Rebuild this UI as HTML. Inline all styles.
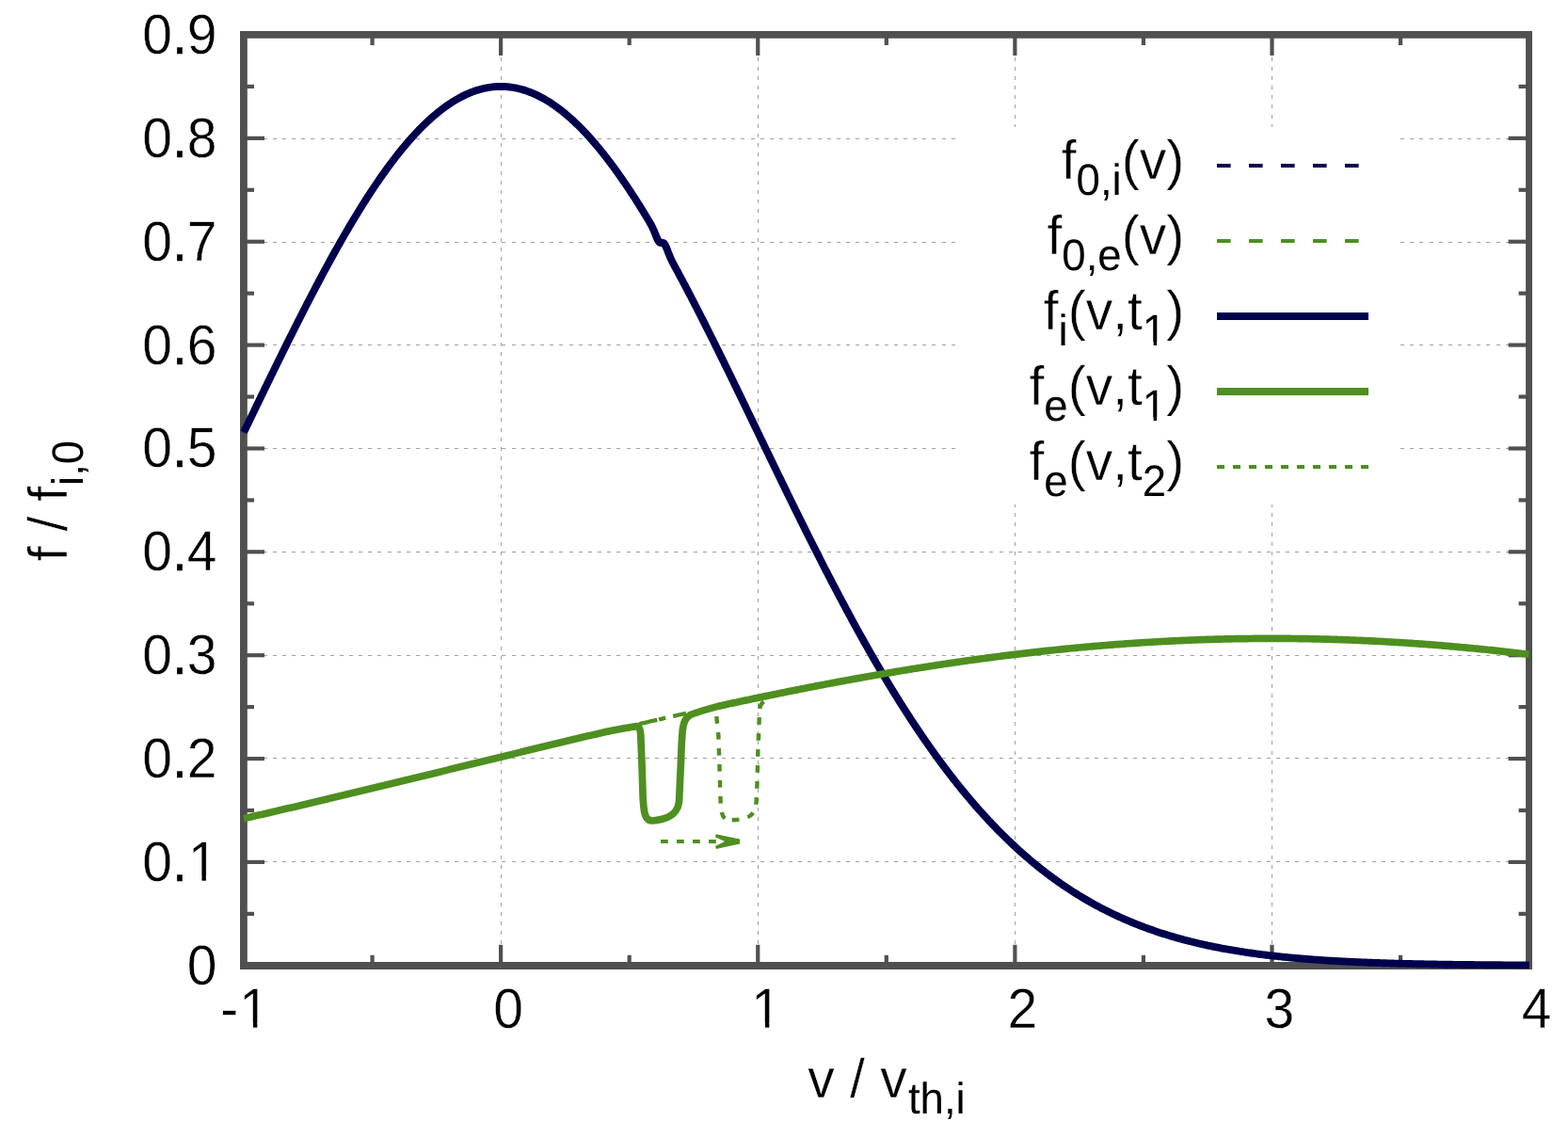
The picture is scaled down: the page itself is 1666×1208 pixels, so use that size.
<!DOCTYPE html>
<html lang="en"><head><meta charset="utf-8"><title>f / f_i,0 versus v / v_th,i</title>
<style>html,body{margin:0;padding:0;background:#fff;}body{width:1666px;height:1208px;overflow:hidden;}</style>
</head><body>
<svg width="1666" height="1208" viewBox="0 0 1666 1208" style="display:block">
<rect x="0" y="0" width="1666" height="1208" fill="#ffffff"/>
<g stroke="#a0a0a0" stroke-width="1" fill="none" shape-rendering="crispEdges">
<line x1="259.3" y1="915.50" x2="1624.60" y2="915.50" stroke-dasharray="4 6.155"/>
<line x1="259.3" y1="805.50" x2="1624.60" y2="805.50" stroke-dasharray="4 6.155"/>
<line x1="259.3" y1="696.50" x2="1624.60" y2="696.50" stroke-dasharray="4 6.155"/>
<line x1="259.3" y1="586.50" x2="1624.60" y2="586.50" stroke-dasharray="4 6.155"/>
<line x1="259.3" y1="476.50" x2="1624.60" y2="476.50" stroke-dasharray="4 6.155"/>
<line x1="259.3" y1="366.50" x2="1624.60" y2="366.50" stroke-dasharray="4 6.155"/>
<line x1="259.3" y1="257.50" x2="1624.60" y2="257.50" stroke-dasharray="4 6.155"/>
<line x1="259.3" y1="147.50" x2="1624.60" y2="147.50" stroke-dasharray="4 6.155"/>
<line x1="532.50" y1="40.82" x2="532.50" y2="1025.80" stroke-dasharray="4 6.09"/>
<line x1="805.50" y1="40.82" x2="805.50" y2="1025.80" stroke-dasharray="4 6.09"/>
<line x1="1078.50" y1="40.82" x2="1078.50" y2="1025.80" stroke-dasharray="4 6.09"/>
<line x1="1351.50" y1="40.82" x2="1351.50" y2="1025.80" stroke-dasharray="4 6.09"/>
</g>
<rect x="1016" y="135" width="471" height="401" fill="#ffffff"/>
<g stroke="#505050" stroke-width="4.2" fill="none">
<line x1="259.00" y1="1025.80" x2="281.00" y2="1025.80"/>
<line x1="1624.60" y1="1025.80" x2="1602.60" y2="1025.80"/>
<line x1="259.00" y1="970.87" x2="270.00" y2="970.87"/>
<line x1="1624.60" y1="970.87" x2="1613.60" y2="970.87"/>
<line x1="259.00" y1="915.93" x2="281.00" y2="915.93"/>
<line x1="1624.60" y1="915.93" x2="1602.60" y2="915.93"/>
<line x1="259.00" y1="861.00" x2="270.00" y2="861.00"/>
<line x1="1624.60" y1="861.00" x2="1613.60" y2="861.00"/>
<line x1="259.00" y1="806.07" x2="281.00" y2="806.07"/>
<line x1="1624.60" y1="806.07" x2="1602.60" y2="806.07"/>
<line x1="259.00" y1="751.13" x2="270.00" y2="751.13"/>
<line x1="1624.60" y1="751.13" x2="1613.60" y2="751.13"/>
<line x1="259.00" y1="696.20" x2="281.00" y2="696.20"/>
<line x1="1624.60" y1="696.20" x2="1602.60" y2="696.20"/>
<line x1="259.00" y1="641.27" x2="270.00" y2="641.27"/>
<line x1="1624.60" y1="641.27" x2="1613.60" y2="641.27"/>
<line x1="259.00" y1="586.33" x2="281.00" y2="586.33"/>
<line x1="1624.60" y1="586.33" x2="1602.60" y2="586.33"/>
<line x1="259.00" y1="531.40" x2="270.00" y2="531.40"/>
<line x1="1624.60" y1="531.40" x2="1613.60" y2="531.40"/>
<line x1="259.00" y1="476.47" x2="281.00" y2="476.47"/>
<line x1="1624.60" y1="476.47" x2="1602.60" y2="476.47"/>
<line x1="259.00" y1="421.53" x2="270.00" y2="421.53"/>
<line x1="1624.60" y1="421.53" x2="1613.60" y2="421.53"/>
<line x1="259.00" y1="366.60" x2="281.00" y2="366.60"/>
<line x1="1624.60" y1="366.60" x2="1602.60" y2="366.60"/>
<line x1="259.00" y1="311.67" x2="270.00" y2="311.67"/>
<line x1="1624.60" y1="311.67" x2="1613.60" y2="311.67"/>
<line x1="259.00" y1="256.73" x2="281.00" y2="256.73"/>
<line x1="1624.60" y1="256.73" x2="1602.60" y2="256.73"/>
<line x1="259.00" y1="201.80" x2="270.00" y2="201.80"/>
<line x1="1624.60" y1="201.80" x2="1613.60" y2="201.80"/>
<line x1="259.00" y1="146.87" x2="281.00" y2="146.87"/>
<line x1="1624.60" y1="146.87" x2="1602.60" y2="146.87"/>
<line x1="259.00" y1="91.93" x2="270.00" y2="91.93"/>
<line x1="1624.60" y1="91.93" x2="1613.60" y2="91.93"/>
<line x1="259.00" y1="37.00" x2="281.00" y2="37.00"/>
<line x1="1624.60" y1="37.00" x2="1602.60" y2="37.00"/>
<line x1="259.00" y1="1025.80" x2="259.00" y2="1003.80"/>
<line x1="259.00" y1="37.00" x2="259.00" y2="59.00"/>
<line x1="395.56" y1="1025.80" x2="395.56" y2="1014.80"/>
<line x1="395.56" y1="37.00" x2="395.56" y2="48.00"/>
<line x1="532.12" y1="1025.80" x2="532.12" y2="1003.80"/>
<line x1="532.12" y1="37.00" x2="532.12" y2="59.00"/>
<line x1="668.68" y1="1025.80" x2="668.68" y2="1014.80"/>
<line x1="668.68" y1="37.00" x2="668.68" y2="48.00"/>
<line x1="805.24" y1="1025.80" x2="805.24" y2="1003.80"/>
<line x1="805.24" y1="37.00" x2="805.24" y2="59.00"/>
<line x1="941.80" y1="1025.80" x2="941.80" y2="1014.80"/>
<line x1="941.80" y1="37.00" x2="941.80" y2="48.00"/>
<line x1="1078.36" y1="1025.80" x2="1078.36" y2="1003.80"/>
<line x1="1078.36" y1="37.00" x2="1078.36" y2="59.00"/>
<line x1="1214.92" y1="1025.80" x2="1214.92" y2="1014.80"/>
<line x1="1214.92" y1="37.00" x2="1214.92" y2="48.00"/>
<line x1="1351.48" y1="1025.80" x2="1351.48" y2="1003.80"/>
<line x1="1351.48" y1="37.00" x2="1351.48" y2="59.00"/>
<line x1="1488.04" y1="1025.80" x2="1488.04" y2="1014.80"/>
<line x1="1488.04" y1="37.00" x2="1488.04" y2="48.00"/>
<line x1="1624.60" y1="1025.80" x2="1624.60" y2="1003.80"/>
<line x1="1624.60" y1="37.00" x2="1624.60" y2="59.00"/>
</g>
<path fill="#505050" fill-rule="evenodd" d="M255,33 H1628 V1030 H255 Z M262.8,40.8 V1022 H1621.1 V40.8 Z"/>
<clipPath id="pc"><rect x="253.00" y="33.00" width="1372.20" height="996.40"/></clipPath>
<g clip-path="url(#pc)" fill="none" stroke-linejoin="round">
<path d="M259.00,459.38 L262.41,452.30 L265.83,445.22 L269.24,438.15 L272.66,431.08 L276.07,424.03 L279.48,416.98 L282.90,409.95 L286.31,402.93 L289.73,395.93 L293.14,388.96 L296.55,382.00 L299.97,375.08 L303.38,368.18 L306.80,361.31 L310.21,354.47 L313.62,347.67 L317.04,340.91 L320.45,334.19 L323.87,327.51 L327.28,320.88 L330.69,314.30 L334.11,307.76 L337.52,301.28 L340.94,294.86 L344.35,288.49 L347.76,282.19 L351.18,275.94 L354.59,269.77 L358.01,263.66 L361.42,257.62 L364.83,251.66 L368.25,245.77 L371.66,239.96 L375.08,234.23 L378.49,228.58 L381.90,223.02 L385.32,217.54 L388.73,212.16 L392.15,206.86 L395.56,201.67 L398.97,196.56 L402.39,191.56 L405.80,186.66 L409.22,181.86 L412.63,177.16 L416.04,172.58 L419.46,168.10 L422.87,163.73 L426.29,159.48 L429.70,155.34 L433.11,151.32 L436.53,147.42 L439.94,143.63 L443.36,139.97 L446.77,136.44 L450.18,133.03 L453.60,129.74 L457.01,126.59 L460.43,123.56 L463.84,120.67 L467.25,117.90 L470.67,115.28 L474.08,112.78 L477.50,110.43 L480.91,108.21 L484.32,106.12 L487.74,104.18 L491.15,102.38 L494.57,100.72 L497.98,99.20 L501.39,97.82 L504.81,96.59 L508.22,95.50 L511.64,94.56 L515.05,93.76 L518.46,93.10 L521.88,92.59 L525.29,92.23 L528.71,92.01 L532.12,91.93 L535.53,92.01 L538.95,92.23 L542.36,92.59 L545.78,93.10 L549.19,93.76 L552.60,94.56 L556.02,95.50 L559.43,96.59 L562.85,97.82 L566.26,99.20 L569.67,100.72 L573.09,102.38 L576.50,104.18 L579.92,106.12 L583.33,108.21 L586.74,110.43 L590.16,112.78 L593.57,115.28 L596.99,117.90 L600.40,120.67 L603.81,123.56 L607.23,126.59 L610.64,129.74 L614.06,133.03 L617.47,136.44 L620.88,139.97 L624.30,143.63 L627.71,147.42 L631.13,151.32 L634.54,155.34 L637.95,159.48 L641.37,163.73 L644.78,168.10 L648.20,172.58 L651.61,177.16 L655.02,181.86 L658.44,186.66 L661.85,191.56 L665.27,196.56 L668.68,201.67 L672.09,206.86 L675.51,212.16 L678.92,217.54 L682.34,223.02 L685.75,228.58 L689.16,234.23 L692.58,239.96 L695.99,245.77 L699.41,251.66 L702.82,257.62 L706.23,263.66 L709.65,269.77 L713.06,275.94 L716.48,282.19 L719.89,288.49 L723.30,294.86 L726.72,301.28 L730.13,307.76 L733.55,314.30 L736.96,320.88 L740.37,327.51 L743.79,334.19 L747.20,340.91 L750.62,347.67 L754.03,354.47 L757.44,361.31 L760.86,368.18 L764.27,375.08 L767.69,382.00 L771.10,388.96 L774.51,395.93 L777.93,402.93 L781.34,409.95 L784.76,416.98 L788.17,424.03 L791.58,431.08 L795.00,438.15 L798.41,445.22 L801.83,452.30 L805.24,459.38 L808.65,466.46 L812.07,473.54 L815.48,480.61 L818.90,487.68 L822.31,494.74 L825.72,501.78 L829.14,508.82 L832.55,515.84 L835.97,522.84 L839.38,529.83 L842.79,536.79 L846.21,543.73 L849.62,550.65 L853.04,557.54 L856.45,564.40 L859.86,571.24 L863.28,578.04 L866.69,584.81 L870.11,591.55 L873.52,598.24 L876.93,604.91 L880.35,611.53 L883.76,618.11 L887.18,624.65 L890.59,631.15 L894.00,637.60 L897.42,644.01 L900.83,650.37 L904.25,656.68 L907.66,662.94 L911.07,669.15 L914.49,675.31 L917.90,681.42 L921.32,687.47 L924.73,693.47 L928.14,699.41 L931.56,705.30 L934.97,711.13 L938.39,716.90 L941.80,722.62 L945.21,728.27 L948.63,733.87 L952.04,739.40 L955.46,744.88 L958.87,750.29 L962.28,755.64 L965.70,760.93 L969.11,766.15 L972.53,771.31 L975.94,776.41 L979.35,781.44 L982.77,786.41 L986.18,791.32 L989.60,796.16 L993.01,800.93 L996.42,805.64 L999.84,810.29 L1003.25,814.87 L1006.67,819.39 L1010.08,823.84 L1013.49,828.22 L1016.91,832.54 L1020.32,836.80 L1023.74,840.99 L1027.15,845.11 L1030.56,849.18 L1033.98,853.17 L1037.39,857.11 L1040.81,860.98 L1044.22,864.78 L1047.63,868.52 L1051.05,872.20 L1054.46,875.82 L1057.88,879.37 L1061.29,882.87 L1064.70,886.30 L1068.12,889.67 L1071.53,892.98 L1074.95,896.23 L1078.36,899.41 L1081.77,902.54 L1085.19,905.62 L1088.60,908.63 L1092.02,911.58 L1095.43,914.48 L1098.84,917.32 L1102.26,920.11 L1105.67,922.84 L1109.09,925.52 L1112.50,928.14 L1115.91,930.70 L1119.33,933.22 L1122.74,935.68 L1126.16,938.09 L1129.57,940.45 L1132.98,942.76 L1136.40,945.02 L1139.81,947.23 L1143.23,949.39 L1146.64,951.50 L1150.05,953.57 L1153.47,955.59 L1156.88,957.56 L1160.30,959.49 L1163.71,961.37 L1167.12,963.22 L1170.54,965.01 L1173.95,966.77 L1177.37,968.48 L1180.78,970.15 L1184.19,971.79 L1187.61,973.38 L1191.02,974.93 L1194.44,976.45 L1197.85,977.92 L1201.26,979.36 L1204.68,980.77 L1208.09,982.14 L1211.51,983.47 L1214.92,984.77 L1218.33,986.03 L1221.75,987.27 L1225.16,988.47 L1228.58,989.64 L1231.99,990.77 L1235.40,991.88 L1238.82,992.96 L1242.23,994.00 L1245.65,995.02 L1249.06,996.01 L1252.47,996.98 L1255.89,997.92 L1259.30,998.83 L1262.72,999.71 L1266.13,1000.57 L1269.54,1001.41 L1272.96,1002.22 L1276.37,1003.01 L1279.79,1003.77 L1283.20,1004.51 L1286.61,1005.23 L1290.03,1005.93 L1293.44,1006.61 L1296.86,1007.27 L1300.27,1007.91 L1303.68,1008.53 L1307.10,1009.13 L1310.51,1009.71 L1313.93,1010.28 L1317.34,1010.82 L1320.75,1011.35 L1324.17,1011.87 L1327.58,1012.36 L1331.00,1012.84 L1334.41,1013.31 L1337.82,1013.76 L1341.24,1014.20 L1344.65,1014.62 L1348.07,1015.03 L1351.48,1015.43 L1354.89,1015.81 L1358.31,1016.18 L1361.72,1016.54 L1365.14,1016.88 L1368.55,1017.22 L1371.96,1017.54 L1375.38,1017.85 L1378.79,1018.15 L1382.21,1018.44 L1385.62,1018.73 L1389.03,1019.00 L1392.45,1019.26 L1395.86,1019.51 L1399.28,1019.76 L1402.69,1019.99 L1406.10,1020.22 L1409.52,1020.44 L1412.93,1020.65 L1416.35,1020.85 L1419.76,1021.05 L1423.17,1021.24 L1426.59,1021.42 L1430.00,1021.60 L1433.42,1021.77 L1436.83,1021.93 L1440.24,1022.09 L1443.66,1022.24 L1447.07,1022.39 L1450.49,1022.53 L1453.90,1022.66 L1457.31,1022.79 L1460.73,1022.92 L1464.14,1023.04 L1467.56,1023.15 L1470.97,1023.26 L1474.38,1023.37 L1477.80,1023.47 L1481.21,1023.57 L1484.63,1023.67 L1488.04,1023.76 L1491.45,1023.84 L1494.87,1023.93 L1498.28,1024.01 L1501.70,1024.09 L1505.11,1024.16 L1508.52,1024.23 L1511.94,1024.30 L1515.35,1024.37 L1518.77,1024.43 L1522.18,1024.49 L1525.59,1024.55 L1529.01,1024.61 L1532.42,1024.66 L1535.84,1024.71 L1539.25,1024.76 L1542.66,1024.81 L1546.08,1024.85 L1549.49,1024.89 L1552.91,1024.94 L1556.32,1024.97 L1559.73,1025.01 L1563.15,1025.05 L1566.56,1025.08 L1569.98,1025.12 L1573.39,1025.15 L1576.80,1025.18 L1580.22,1025.21 L1583.63,1025.24 L1587.05,1025.26 L1590.46,1025.29 L1593.87,1025.31 L1597.29,1025.33 L1600.70,1025.36 L1604.12,1025.38 L1607.53,1025.40 L1610.94,1025.42 L1614.36,1025.44 L1617.77,1025.45 L1621.19,1025.47 L1624.60,1025.49" stroke="#00004d" stroke-width="3.90" stroke-dasharray="15 19"/>
<path d="M679.00,769.22 L681.41,768.66 L683.83,768.11 L686.24,767.55 L688.65,766.99 L691.06,766.44 L693.47,765.89 L695.89,765.33 L698.30,764.78 M715.20,760.94 L716.93,760.55 L718.65,760.16 L720.38,759.77 L722.10,759.39 L723.83,759.00 L725.55,758.61 L727.27,758.22 L729.00,757.84" stroke="#4e8f20" stroke-width="4.30"/>
<path d="M700.00,764.39 L700.90,764.19 L701.80,763.98 L702.70,763.78 L703.60,763.57 L704.50,763.37 L705.40,763.16 L706.30,762.96 L707.20,762.75" stroke="#4e8f20" stroke-width="4.30"/>
<path d="M259.00,459.38 L260.52,456.23 L262.03,453.09 L263.55,449.94 L265.07,446.80 L266.59,443.65 L268.10,440.51 L269.62,437.37 L271.14,434.22 L272.66,431.08 L274.17,427.95 L275.69,424.81 L277.21,421.68 L278.73,418.55 L280.24,415.42 L281.76,412.29 L283.28,409.17 L284.79,406.05 L286.31,402.93 L287.83,399.82 L289.35,396.71 L290.86,393.61 L292.38,390.51 L293.90,387.41 L295.42,384.32 L296.93,381.23 L298.45,378.15 L299.97,375.08 L301.49,372.01 L303.00,368.94 L304.52,365.88 L306.04,362.83 L307.55,359.79 L309.07,356.75 L310.59,353.72 L312.11,350.69 L313.62,347.67 L315.14,344.66 L316.66,341.66 L318.18,338.67 L319.69,335.68 L321.21,332.70 L322.73,329.73 L324.25,326.77 L325.76,323.82 L327.28,320.88 L328.80,317.95 L330.31,315.03 L331.83,312.11 L333.35,309.21 L334.87,306.32 L336.38,303.44 L337.90,300.57 L339.42,297.71 L340.94,294.86 L342.45,292.02 L343.97,289.20 L345.49,286.38 L347.01,283.58 L348.52,280.79 L350.04,278.02 L351.56,275.25 L353.07,272.50 L354.59,269.77 L356.11,267.04 L357.63,264.34 L359.14,261.64 L360.66,258.96 L362.18,256.29 L363.70,253.64 L365.21,251.00 L366.73,248.38 L368.25,245.77 L369.77,243.18 L371.28,240.60 L372.80,238.04 L374.32,235.49 L375.83,232.97 L377.35,230.45 L378.87,227.96 L380.39,225.48 L381.90,223.02 L383.42,220.57 L384.94,218.15 L386.46,215.74 L387.97,213.35 L389.49,210.97 L391.01,208.62 L392.53,206.28 L394.04,203.96 L395.56,201.67 L397.08,199.39 L398.59,197.13 L400.11,194.88 L401.63,192.66 L403.15,190.46 L404.66,188.28 L406.18,186.12 L407.70,183.98 L409.22,181.86 L410.73,179.76 L412.25,177.68 L413.77,175.62 L415.29,173.59 L416.80,171.57 L418.32,169.58 L419.84,167.61 L421.35,165.66 L422.87,163.73 L424.39,161.83 L425.91,159.95 L427.42,158.09 L428.94,156.25 L430.46,154.44 L431.98,152.65 L433.49,150.88 L435.01,149.14 L436.53,147.42 L438.05,145.72 L439.56,144.05 L441.08,142.40 L442.60,140.78 L444.11,139.18 L445.63,137.60 L447.15,136.05 L448.67,134.53 L450.18,133.03 L451.70,131.55 L453.22,130.10 L454.74,128.68 L456.25,127.28 L457.77,125.90 L459.29,124.55 L460.81,123.23 L462.32,121.94 L463.84,120.67 L465.36,119.42 L466.87,118.20 L468.39,117.01 L469.91,115.85 L471.43,114.71 L472.94,113.60 L474.46,112.51 L475.98,111.46 L477.50,110.43 L479.01,109.42 L480.53,108.45 L482.05,107.50 L483.57,106.57 L485.08,105.68 L486.60,104.81 L488.12,103.98 L489.63,103.16 L491.15,102.38 L492.67,101.62 L494.19,100.90 L495.70,100.20 L497.22,99.53 L498.74,98.88 L500.26,98.27 L501.77,97.68 L503.29,97.12 L504.81,96.59 L506.33,96.09 L507.84,95.62 L509.36,95.17 L510.88,94.75 L512.39,94.37 L513.91,94.01 L515.43,93.68 L516.95,93.37 L518.46,93.10 L519.98,92.86 L521.50,92.64 L523.02,92.45 L524.53,92.29 L526.05,92.16 L527.57,92.06 L529.09,91.99 L530.60,91.95 L532.12,91.93 L533.64,91.95 L535.15,91.99 L536.67,92.06 L538.19,92.16 L539.71,92.29 L541.22,92.45 L542.74,92.64 L544.26,92.86 L545.78,93.10 L547.29,93.37 L548.81,93.68 L550.33,94.01 L551.85,94.37 L553.36,94.75 L554.88,95.17 L556.40,95.62 L557.91,96.09 L559.43,96.59 L560.95,97.12 L562.47,97.68 L563.98,98.27 L565.50,98.88 L567.02,99.53 L568.54,100.20 L570.05,100.90 L571.57,101.62 L573.09,102.38 L574.61,103.16 L576.12,103.98 L577.64,104.81 L579.16,105.68 L580.67,106.57 L582.19,107.50 L583.71,108.45 L585.23,109.42 L586.74,110.43 L588.26,111.46 L589.78,112.51 L591.30,113.60 L592.81,114.71 L594.33,115.85 L595.85,117.01 L597.37,118.20 L598.88,119.42 L600.40,120.67 L601.92,121.94 L603.43,123.23 L604.95,124.55 L606.47,125.90 L607.99,127.28 L609.50,128.68 L611.02,130.10 L612.54,131.55 L614.06,133.03 L615.57,134.53 L617.09,136.05 L618.61,137.60 L620.13,139.18 L621.64,140.78 L623.16,142.40 L624.68,144.05 L626.19,145.72 L627.71,147.42 L629.23,149.14 L630.75,150.88 L632.26,152.65 L633.78,154.44 L635.30,156.25 L636.82,158.09 L638.33,159.95 L639.85,161.83 L641.37,163.73 L642.89,165.66 L644.40,167.61 L645.92,169.58 L647.44,171.57 L648.95,173.59 L650.47,175.62 L651.99,177.68 L653.51,179.76 L655.02,181.86 L656.54,183.98 L658.06,186.12 L659.58,188.28 L661.09,190.46 L662.61,192.66 L664.13,194.88 L665.65,197.13 L667.16,199.39 L668.68,201.67 L670.20,203.96 L671.71,206.28 L673.23,208.62 L674.75,210.97 L676.27,213.35 L677.78,215.74 L679.30,218.15 L680.82,220.57 L682.34,223.02 L683.85,225.48 L685.37,227.96 L686.89,230.46 L688.41,232.98 L689.92,235.54 L691.44,238.21 L692.96,241.10 L694.47,244.36 L695.99,248.07 L697.51,251.98 L699.03,255.39 L700.54,257.47 L702.06,258.00 L703.58,257.75 L705.10,258.08 L706.61,259.93 L708.13,263.24 L709.65,267.23 L711.17,271.15 L712.68,274.66 L714.20,277.81 L715.72,280.73 L717.23,283.57 L718.75,286.38 L720.27,289.20 L721.79,292.02 L723.30,294.86 L724.82,297.71 L726.34,300.57 L727.86,303.44 L729.37,306.32 L730.89,309.21 L732.41,312.11 L733.93,315.03 L735.44,317.95 L736.96,320.88 L738.48,323.82 L739.99,326.77 L741.51,329.73 L743.03,332.70 L744.55,335.68 L746.06,338.67 L747.58,341.66 L749.10,344.66 L750.62,347.67 L752.13,350.69 L753.65,353.72 L755.17,356.75 L756.69,359.79 L758.20,362.83 L759.72,365.88 L761.24,368.94 L762.75,372.01 L764.27,375.08 L765.79,378.15 L767.31,381.23 L768.82,384.32 L770.34,387.41 L771.86,390.51 L773.38,393.61 L774.89,396.71 L776.41,399.82 L777.93,402.93 L779.45,406.05 L780.96,409.17 L782.48,412.29 L784.00,415.42 L785.51,418.55 L787.03,421.68 L788.55,424.81 L790.07,427.95 L791.58,431.08 L793.10,434.22 L794.62,437.37 L796.14,440.51 L797.65,443.65 L799.17,446.80 L800.69,449.94 L802.21,453.09 L803.72,456.23 L805.24,459.38 L806.76,462.53 L808.27,465.67 L809.79,468.82 L811.31,471.97 L812.83,475.11 L814.34,478.25 L815.86,481.40 L817.38,484.54 L818.90,487.68 L820.41,490.82 L821.93,493.95 L823.45,497.09 L824.97,500.22 L826.48,503.35 L828.00,506.48 L829.52,509.60 L831.03,512.72 L832.55,515.84 L834.07,518.95 L835.59,522.07 L837.10,525.17 L838.62,528.28 L840.14,531.38 L841.66,534.47 L843.17,537.56 L844.69,540.65 L846.21,543.73 L847.73,546.81 L849.24,549.88 L850.76,552.95 L852.28,556.01 L853.79,559.07 L855.31,562.12 L856.83,565.17 L858.35,568.20 L859.86,571.24 L861.38,574.27 L862.90,577.29 L864.42,580.30 L865.93,583.31 L867.45,586.31 L868.97,589.30 L870.49,592.29 L872.00,595.27 L873.52,598.24 L875.04,601.21 L876.55,604.17 L878.07,607.12 L879.59,610.06 L881.11,612.99 L882.62,615.92 L884.14,618.84 L885.66,621.75 L887.18,624.65 L888.69,627.54 L890.21,630.43 L891.73,633.30 L893.25,636.17 L894.76,639.03 L896.28,641.88 L897.80,644.72 L899.31,647.55 L900.83,650.37 L902.35,653.18 L903.87,655.98 L905.38,658.77 L906.90,661.55 L908.42,664.32 L909.94,667.09 L911.45,669.84 L912.97,672.58 L914.49,675.31 L916.01,678.03 L917.52,680.74 L919.04,683.44 L920.56,686.13 L922.07,688.81 L923.59,691.48 L925.11,694.13 L926.63,696.78 L928.14,699.41 L929.66,702.04 L931.18,704.65 L932.70,707.25 L934.21,709.84 L935.73,712.42 L937.25,714.99 L938.77,717.54 L940.28,720.09 L941.80,722.62 L943.32,725.14 L944.83,727.65 L946.35,730.14 L947.87,732.63 L949.39,735.10 L950.90,737.56 L952.42,740.01 L953.94,742.45 L955.46,744.88 L956.97,747.29 L958.49,749.69 L960.01,752.08 L961.53,754.45 L963.04,756.82 L964.56,759.17 L966.08,761.51 L967.59,763.84 L969.11,766.15 L970.63,768.45 L972.15,770.74 L973.66,773.02 L975.18,775.28 L976.70,777.53 L978.22,779.77 L979.73,782.00 L981.25,784.21 L982.77,786.41 L984.29,788.60 L985.80,790.78 L987.32,792.94 L988.84,795.09 L990.35,797.22 L991.87,799.35 L993.39,801.46 L994.91,803.56 L996.42,805.64 L997.94,807.72 L999.46,809.78 L1000.98,811.82 L1002.49,813.86 L1004.01,815.88 L1005.53,817.89 L1007.05,819.88 L1008.56,821.87 L1010.08,823.84 L1011.60,825.79 L1013.11,827.74 L1014.63,829.67 L1016.15,831.59 L1017.67,833.49 L1019.18,835.39 L1020.70,837.27 L1022.22,839.13 L1023.74,840.99 L1025.25,842.83 L1026.77,844.66 L1028.29,846.48 L1029.81,848.28 L1031.32,850.07 L1032.84,851.85 L1034.36,853.61 L1035.87,855.37 L1037.39,857.11 L1038.91,858.83 L1040.43,860.55 L1041.94,862.25 L1043.46,863.94 L1044.98,865.62 L1046.50,867.28 L1048.01,868.94 L1049.53,870.58 L1051.05,872.20 L1052.57,873.82 L1054.08,875.42 L1055.60,877.01 L1057.12,878.59 L1058.63,880.16 L1060.15,881.71 L1061.67,883.25 L1063.19,884.78 L1064.70,886.30 L1066.22,887.80 L1067.74,889.30 L1069.26,890.78 L1070.77,892.25 L1072.29,893.70 L1073.81,895.15 L1075.33,896.58 L1076.84,898.00 L1078.36,899.41 L1079.88,900.81 L1081.39,902.20 L1082.91,903.58 L1084.43,904.94 L1085.95,906.29 L1087.46,907.63 L1088.98,908.96 L1090.50,910.28 L1092.02,911.58 L1093.53,912.88 L1095.05,914.16 L1096.57,915.44 L1098.09,916.70 L1099.60,917.95 L1101.12,919.19 L1102.64,920.42 L1104.15,921.63 L1105.67,922.84 L1107.19,924.04 L1108.71,925.22 L1110.22,926.40 L1111.74,927.56 L1113.26,928.71 L1114.78,929.85 L1116.29,930.99 L1117.81,932.11 L1119.33,933.22 L1120.85,934.32 L1122.36,935.41 L1123.88,936.49 L1125.40,937.56 L1126.91,938.62 L1128.43,939.67 L1129.95,940.71 L1131.47,941.74 L1132.98,942.76 L1134.50,943.77 L1136.02,944.77 L1137.54,945.76 L1139.05,946.74 L1140.57,947.71 L1142.09,948.67 L1143.61,949.63 L1145.12,950.57 L1146.64,951.50 L1148.16,952.43 L1149.67,953.34 L1151.19,954.25 L1152.71,955.14 L1154.23,956.03 L1155.74,956.91 L1157.26,957.78 L1158.78,958.64 L1160.30,959.49 L1161.81,960.33 L1163.33,961.17 L1164.85,961.99 L1166.37,962.81 L1167.88,963.62 L1169.40,964.42 L1170.92,965.21 L1172.43,965.99 L1173.95,966.77 L1175.47,967.53 L1176.99,968.29 L1178.50,969.04 L1180.02,969.79 L1181.54,970.52 L1183.06,971.25 L1184.57,971.96 L1186.09,972.67 L1187.61,973.38 L1189.13,974.07 L1190.64,974.76 L1192.16,975.44 L1193.68,976.11 L1195.19,976.78 L1196.71,977.43 L1198.23,978.09 L1199.75,978.73 L1201.26,979.36 L1202.78,979.99 L1204.30,980.61 L1205.82,981.23 L1207.33,981.84 L1208.85,982.44 L1210.37,983.03 L1211.89,983.62 L1213.40,984.20 L1214.92,984.77 L1216.44,985.34 L1217.95,985.90 L1219.47,986.45 L1220.99,987.00 L1222.51,987.54 L1224.02,988.07 L1225.54,988.60 L1227.06,989.12 L1228.58,989.64 L1230.09,990.14 L1231.61,990.65 L1233.13,991.14 L1234.65,991.64 L1236.16,992.12 L1237.68,992.60 L1239.20,993.07 L1240.71,993.54 L1242.23,994.00 L1243.75,994.46 L1245.27,994.91 L1246.78,995.36 L1248.30,995.80 L1249.82,996.23 L1251.34,996.66 L1252.85,997.08 L1254.37,997.50 L1255.89,997.92 L1257.41,998.32 L1258.92,998.73 L1260.44,999.12 L1261.96,999.52 L1263.47,999.90 L1264.99,1000.29 L1266.51,1000.66 L1268.03,1001.04 L1269.54,1001.41 L1271.06,1001.77 L1272.58,1002.13 L1274.10,1002.48 L1275.61,1002.83 L1277.13,1003.18 L1278.65,1003.52 L1280.17,1003.85 L1281.68,1004.19 L1283.20,1004.51 L1284.72,1004.84 L1286.23,1005.16 L1287.75,1005.47 L1289.27,1005.78 L1290.79,1006.09 L1292.30,1006.39 L1293.82,1006.69 L1295.34,1006.98 L1296.86,1007.27 L1298.37,1007.56 L1299.89,1007.84 L1301.41,1008.12 L1302.93,1008.39 L1304.44,1008.66 L1305.96,1008.93 L1307.48,1009.20 L1308.99,1009.46 L1310.51,1009.71 L1312.03,1009.96 L1313.55,1010.21 L1315.06,1010.46 L1316.58,1010.70 L1318.10,1010.94 L1319.62,1011.18 L1321.13,1011.41 L1322.65,1011.64 L1324.17,1011.87 L1325.69,1012.09 L1327.20,1012.31 L1328.72,1012.53 L1330.24,1012.74 L1331.75,1012.95 L1333.27,1013.16 L1334.79,1013.36 L1336.31,1013.56 L1337.82,1013.76 L1339.34,1013.96 L1340.86,1014.15 L1342.38,1014.34 L1343.89,1014.53 L1345.41,1014.71 L1346.93,1014.90 L1348.45,1015.07 L1349.96,1015.25 L1351.48,1015.43 L1353.00,1015.60 L1354.51,1015.77 L1356.03,1015.93 L1357.55,1016.10 L1359.07,1016.26 L1360.58,1016.42 L1362.10,1016.58 L1363.62,1016.73 L1365.14,1016.88 L1366.65,1017.03 L1368.17,1017.18 L1369.69,1017.33 L1371.21,1017.47 L1372.72,1017.61 L1374.24,1017.75 L1375.76,1017.89 L1377.27,1018.02 L1378.79,1018.15 L1380.31,1018.28 L1381.83,1018.41 L1383.34,1018.54 L1384.86,1018.66 L1386.38,1018.79 L1387.90,1018.91 L1389.41,1019.03 L1390.93,1019.14 L1392.45,1019.26 L1393.97,1019.37 L1395.48,1019.48 L1397.00,1019.59 L1398.52,1019.70 L1400.03,1019.81 L1401.55,1019.91 L1403.07,1020.02 L1404.59,1020.12 L1406.10,1020.22 L1407.62,1020.32 L1409.14,1020.41 L1410.66,1020.51 L1412.17,1020.60 L1413.69,1020.70 L1415.21,1020.79 L1416.73,1020.88 L1418.24,1020.96 L1419.76,1021.05 L1421.28,1021.14 L1422.79,1021.22 L1424.31,1021.30 L1425.83,1021.38 L1427.35,1021.46 L1428.86,1021.54 L1430.38,1021.62 L1431.90,1021.69 L1433.42,1021.77 L1434.93,1021.84 L1436.45,1021.91 L1437.97,1021.98 L1439.49,1022.05 L1441.00,1022.12 L1442.52,1022.19 L1444.04,1022.26 L1445.55,1022.32 L1447.07,1022.39 L1448.59,1022.45 L1450.11,1022.51 L1451.62,1022.57 L1453.14,1022.63 L1454.66,1022.69 L1456.18,1022.75 L1457.69,1022.80 L1459.21,1022.86 L1460.73,1022.92 L1462.25,1022.97 L1463.76,1023.02 L1465.28,1023.07 L1466.80,1023.13 L1468.31,1023.18 L1469.83,1023.23 L1471.35,1023.27 L1472.87,1023.32 L1474.38,1023.37 L1475.90,1023.42 L1477.42,1023.46 L1478.94,1023.51 L1480.45,1023.55 L1481.97,1023.59 L1483.49,1023.63 L1485.01,1023.68 L1486.52,1023.72 L1488.04,1023.76 L1489.56,1023.80 L1491.07,1023.84 L1492.59,1023.87 L1494.11,1023.91 L1495.63,1023.95 L1497.14,1023.98 L1498.66,1024.02 L1500.18,1024.05 L1501.70,1024.09 L1503.21,1024.12 L1504.73,1024.15 L1506.25,1024.19 L1507.77,1024.22 L1509.28,1024.25 L1510.80,1024.28 L1512.32,1024.31 L1513.83,1024.34 L1515.35,1024.37 L1516.87,1024.40 L1518.39,1024.42 L1519.90,1024.45 L1521.42,1024.48 L1522.94,1024.50 L1524.46,1024.53 L1525.97,1024.56 L1527.49,1024.58 L1529.01,1024.61 L1530.53,1024.63 L1532.04,1024.65 L1533.56,1024.68 L1535.08,1024.70 L1536.59,1024.72 L1538.11,1024.74 L1539.63,1024.76 L1541.15,1024.79 L1542.66,1024.81 L1544.18,1024.83 L1545.70,1024.85 L1547.22,1024.87 L1548.73,1024.88 L1550.25,1024.90 L1551.77,1024.92 L1553.29,1024.94 L1554.80,1024.96 L1556.32,1024.97 L1557.84,1024.99 L1559.35,1025.01 L1560.87,1025.02 L1562.39,1025.04 L1563.91,1025.06 L1565.42,1025.07 L1566.94,1025.09 L1568.46,1025.10 L1569.98,1025.12 L1571.49,1025.13 L1573.01,1025.14 L1574.53,1025.16 L1576.05,1025.17 L1577.56,1025.19 L1579.08,1025.20 L1580.60,1025.21 L1582.11,1025.22 L1583.63,1025.24 L1585.15,1025.25 L1586.67,1025.26 L1588.18,1025.27 L1589.70,1025.28 L1591.22,1025.29 L1592.74,1025.30 L1594.25,1025.31 L1595.77,1025.32 L1597.29,1025.33 L1598.81,1025.34 L1600.32,1025.35 L1601.84,1025.36 L1603.36,1025.37 L1604.87,1025.38 L1606.39,1025.39 L1607.91,1025.40 L1609.43,1025.41 L1610.94,1025.42 L1612.46,1025.43 L1613.98,1025.43 L1615.50,1025.44 L1617.01,1025.45 L1618.53,1025.46 L1620.05,1025.47 L1621.57,1025.47 L1623.08,1025.48 L1624.60,1025.49" stroke="#00004d" stroke-width="7.90"/>
<path d="M259.00,869.69 L261.08,869.21 L263.16,868.74 L265.24,868.26 L267.32,867.78 L269.40,867.30 L271.48,866.83 L273.56,866.35 L275.64,865.87 L277.72,865.39 L279.80,864.91 L281.88,864.43 L283.96,863.94 L286.04,863.46 L288.12,862.98 L290.20,862.50 L292.28,862.01 L294.36,861.53 L296.44,861.04 L298.52,860.56 L300.60,860.07 L302.68,859.59 L304.76,859.10 L306.84,858.62 L308.92,858.13 L311.00,857.64 L313.08,857.15 L315.16,856.66 L317.24,856.18 L319.32,855.69 L321.40,855.20 L323.48,854.71 L325.56,854.22 L327.64,853.72 L329.72,853.23 L331.80,852.74 L333.88,852.25 L335.96,851.76 L338.04,851.26 L340.12,850.77 L342.20,850.28 L344.28,849.78 L346.36,849.29 L348.44,848.79 L350.52,848.30 L352.60,847.80 L354.68,847.31 L356.76,846.81 L358.84,846.31 L360.92,845.82 L363.00,845.32 L365.08,844.82 L367.16,844.32 L369.24,843.82 L371.32,843.33 L373.40,842.83 L375.48,842.33 L377.56,841.83 L379.64,841.33 L381.72,840.83 L383.80,840.33 L385.88,839.83 L387.96,839.33 L390.04,838.83 L392.12,838.32 L394.20,837.82 L396.28,837.32 L398.36,836.82 L400.44,836.32 L402.52,835.81 L404.60,835.31 L406.68,834.81 L408.76,834.30 L410.84,833.80 L412.92,833.30 L415.00,832.79 L417.08,832.29 L419.16,831.78 L421.24,831.28 L423.32,830.78 L425.40,830.27 L427.48,829.77 L429.56,829.26 L431.64,828.76 L433.72,828.25 L435.80,827.74 L437.88,827.24 L439.96,826.73 L442.04,826.23 L444.12,825.72 L446.20,825.21 L448.28,824.71 L450.36,824.20 L452.44,823.69 L454.52,823.19 L456.60,822.68 L458.68,822.17 L460.76,821.67 L462.84,821.16 L464.92,820.65 L467.00,820.15 L469.08,819.64 L471.16,819.13 L473.24,818.62 L475.32,818.12 L477.40,817.61 L479.48,817.10 L481.56,816.59 L483.64,816.09 L485.72,815.58 L487.80,815.07 L489.88,814.56 L491.96,814.06 L494.04,813.55 L496.12,813.04 L498.20,812.53 L500.28,812.03 L502.36,811.52 L504.44,811.01 L506.52,810.51 L508.60,810.00 L510.68,809.49 L512.76,808.98 L514.84,808.48 L516.92,807.97 L519.00,807.46 L521.08,806.96 L523.16,806.45 L525.24,805.94 L527.32,805.44 L529.40,804.93 L531.48,804.42 L533.56,803.92 L535.64,803.41 L537.72,802.91 L539.80,802.40 L541.88,801.89 L543.96,801.39 L546.04,800.88 L548.12,800.38 L550.20,799.87 L552.28,799.37 L554.36,798.86 L556.44,798.36 L558.52,797.86 L560.60,797.35 L562.68,796.85 L564.76,796.35 L566.84,795.84 L568.92,795.34 L571.00,794.84 L573.08,794.33 L575.16,793.83 L577.24,793.33 L579.32,792.83 L581.40,792.33 L583.48,791.83 L585.56,791.32 L587.64,790.82 L589.72,790.32 L591.80,789.82 L593.88,789.32 L595.96,788.82 L598.04,788.33 L600.12,787.83 L602.20,787.33 L604.28,786.83 L606.36,786.33 L608.44,785.83 L610.52,785.34 L612.60,784.84 L614.68,784.34 L616.76,783.85 L618.84,783.35 L620.92,782.86 L623.00,782.36 L625.08,781.87 L627.16,781.38 L629.24,780.88 L631.32,780.39 L633.40,779.90 L635.48,779.42 L637.56,778.94 L639.64,778.48 L641.72,778.02 L643.80,777.57 L645.88,777.13 L647.96,776.70 L650.04,776.27 L652.12,775.86 L654.20,775.45 L656.28,775.05 L658.36,774.66 L660.44,774.28 L662.52,773.91 L664.60,773.54 L666.68,773.19 L668.76,772.84 L670.84,772.50 L672.92,772.17 L675.00,771.85 C 678.6,771.05 680.4,773.5 680.8,782 L 682.0,811 L 683.2,849 L 684.0,858 C 685,868.5 688,872.3 693.2,872 C 700,871.3 706,869.8 710,868 C 716,865.3 720.2,861 721.5,852 L 723.4,811 L 724.2,790 L 725.2,776 C 726.2,766.5 728.5,762.3 733,759.8 C 738,757.3 748,754.6 764.00,750.12 L764.00,750.12 L766.15,749.66 L768.30,749.19 L770.45,748.73 L772.61,748.26 L774.76,747.80 L776.91,747.34 L779.06,746.88 L781.21,746.42 L783.36,745.96 L785.51,745.50 L787.67,745.04 L789.82,744.59 L791.97,744.13 L794.12,743.68 L796.27,743.22 L798.42,742.77 L800.58,742.32 L802.73,741.87 L804.88,741.42 L807.03,740.97 L809.18,740.53 L811.33,740.08 L813.48,739.64 L815.64,739.19 L817.79,738.75 L819.94,738.31 L822.09,737.87 L824.24,737.43 L826.39,736.99 L828.54,736.56 L830.70,736.12 L832.85,735.69 L835.00,735.25 L837.15,734.82 L839.30,734.39 L841.45,733.96 L843.61,733.53 L845.76,733.10 L847.91,732.68 L850.06,732.25 L852.21,731.83 L854.36,731.41 L856.51,730.98 L858.67,730.56 L860.82,730.14 L862.97,729.73 L865.12,729.31 L867.27,728.89 L869.42,728.48 L871.58,728.07 L873.73,727.66 L875.88,727.25 L878.03,726.84 L880.18,726.43 L882.33,726.02 L884.48,725.62 L886.64,725.22 L888.79,724.81 L890.94,724.41 L893.09,724.01 L895.24,723.61 L897.39,723.22 L899.54,722.82 L901.70,722.43 L903.85,722.03 L906.00,721.64 L908.15,721.25 L910.30,720.86 L912.45,720.48 L914.61,720.09 L916.76,719.71 L918.91,719.32 L921.06,718.94 L923.21,718.56 L925.36,718.18 L927.51,717.80 L929.67,717.43 L931.82,717.05 L933.97,716.68 L936.12,716.31 L938.27,715.94 L940.42,715.57 L942.57,715.20 L944.73,714.84 L946.88,714.47 L949.03,714.11 L951.18,713.75 L953.33,713.39 L955.48,713.03 L957.63,712.68 L959.79,712.32 L961.94,711.97 L964.09,711.62 L966.24,711.27 L968.39,710.92 L970.54,710.57 L972.70,710.23 L974.85,709.88 L977.00,709.54 L979.15,709.20 L981.30,708.86 L983.45,708.52 L985.60,708.19 L987.76,707.85 L989.91,707.52 L992.06,707.19 L994.21,706.86 L996.36,706.53 L998.51,706.20 L1000.66,705.88 L1002.82,705.56 L1004.97,705.24 L1007.12,704.92 L1009.27,704.60 L1011.42,704.28 L1013.57,703.97 L1015.73,703.65 L1017.88,703.34 L1020.03,703.03 L1022.18,702.73 L1024.33,702.42 L1026.48,702.12 L1028.63,701.81 L1030.79,701.51 L1032.94,701.21 L1035.09,700.92 L1037.24,700.62 L1039.39,700.33 L1041.54,700.03 L1043.69,699.74 L1045.85,699.46 L1048.00,699.17 L1050.15,698.88 L1052.30,698.60 L1054.45,698.32 L1056.60,698.04 L1058.76,697.76 L1060.91,697.49 L1063.06,697.21 L1065.21,696.94 L1067.36,696.67 L1069.51,696.40 L1071.66,696.13 L1073.82,695.87 L1075.97,695.60 L1078.12,695.34 L1080.27,695.08 L1082.42,694.82 L1084.57,694.57 L1086.72,694.31 L1088.88,694.06 L1091.03,693.81 L1093.18,693.56 L1095.33,693.32 L1097.48,693.07 L1099.63,692.83 L1101.79,692.59 L1103.94,692.35 L1106.09,692.11 L1108.24,691.88 L1110.39,691.64 L1112.54,691.41 L1114.69,691.18 L1116.85,690.96 L1119.00,690.73 L1121.15,690.51 L1123.30,690.28 L1125.45,690.06 L1127.60,689.85 L1129.75,689.63 L1131.91,689.42 L1134.06,689.20 L1136.21,688.99 L1138.36,688.79 L1140.51,688.58 L1142.66,688.38 L1144.82,688.17 L1146.97,687.97 L1149.12,687.78 L1151.27,687.58 L1153.42,687.38 L1155.57,687.19 L1157.72,687.00 L1159.88,686.81 L1162.03,686.63 L1164.18,686.44 L1166.33,686.26 L1168.48,686.08 L1170.63,685.90 L1172.78,685.73 L1174.94,685.55 L1177.09,685.38 L1179.24,685.21 L1181.39,685.04 L1183.54,684.87 L1185.69,684.71 L1187.85,684.55 L1190.00,684.39 L1192.15,684.23 L1194.30,684.07 L1196.45,683.92 L1198.60,683.77 L1200.75,683.62 L1202.91,683.47 L1205.06,683.33 L1207.21,683.18 L1209.36,683.04 L1211.51,682.90 L1213.66,682.76 L1215.82,682.63 L1217.97,682.50 L1220.12,682.36 L1222.27,682.23 L1224.42,682.11 L1226.57,681.98 L1228.72,681.86 L1230.88,681.74 L1233.03,681.62 L1235.18,681.50 L1237.33,681.39 L1239.48,681.28 L1241.63,681.17 L1243.78,681.06 L1245.94,680.95 L1248.09,680.85 L1250.24,680.75 L1252.39,680.65 L1254.54,680.55 L1256.69,680.45 L1258.84,680.36 L1261.00,680.27 L1263.15,680.18 L1265.30,680.09 L1267.45,680.01 L1269.60,679.93 L1271.75,679.85 L1273.91,679.77 L1276.06,679.69 L1278.21,679.62 L1280.36,679.54 L1282.51,679.47 L1284.66,679.41 L1286.81,679.34 L1288.97,679.28 L1291.12,679.22 L1293.27,679.16 L1295.42,679.10 L1297.57,679.04 L1299.72,678.99 L1301.88,678.94 L1304.03,678.89 L1306.18,678.85 L1308.33,678.80 L1310.48,678.76 L1312.63,678.72 L1314.78,678.68 L1316.94,678.65 L1319.09,678.61 L1321.24,678.58 L1323.39,678.55 L1325.54,678.53 L1327.69,678.50 L1329.84,678.48 L1332.00,678.46 L1334.15,678.44 L1336.30,678.42 L1338.45,678.41 L1340.60,678.40 L1342.75,678.39 L1344.90,678.38 L1347.06,678.37 L1349.21,678.37 L1351.36,678.37 L1353.51,678.37 L1355.66,678.37 L1357.81,678.38 L1359.97,678.39 L1362.12,678.39 L1364.27,678.41 L1366.42,678.42 L1368.57,678.44 L1370.72,678.45 L1372.87,678.48 L1375.03,678.50 L1377.18,678.52 L1379.33,678.55 L1381.48,678.58 L1383.63,678.61 L1385.78,678.64 L1387.93,678.68 L1390.09,678.72 L1392.24,678.76 L1394.39,678.80 L1396.54,678.84 L1398.69,678.89 L1400.84,678.94 L1403.00,678.99 L1405.15,679.04 L1407.30,679.09 L1409.45,679.15 L1411.60,679.21 L1413.75,679.27 L1415.90,679.33 L1418.06,679.40 L1420.21,679.47 L1422.36,679.54 L1424.51,679.61 L1426.66,679.68 L1428.81,679.76 L1430.97,679.84 L1433.12,679.92 L1435.27,680.00 L1437.42,680.08 L1439.57,680.17 L1441.72,680.26 L1443.87,680.35 L1446.03,680.44 L1448.18,680.54 L1450.33,680.64 L1452.48,680.74 L1454.63,680.84 L1456.78,680.94 L1458.93,681.05 L1461.09,681.16 L1463.24,681.27 L1465.39,681.38 L1467.54,681.49 L1469.69,681.61 L1471.84,681.73 L1473.99,681.85 L1476.15,681.97 L1478.30,682.09 L1480.45,682.22 L1482.60,682.35 L1484.75,682.48 L1486.90,682.61 L1489.06,682.75 L1491.21,682.89 L1493.36,683.02 L1495.51,683.17 L1497.66,683.31 L1499.81,683.46 L1501.96,683.60 L1504.12,683.75 L1506.27,683.90 L1508.42,684.06 L1510.57,684.21 L1512.72,684.37 L1514.87,684.53 L1517.02,684.69 L1519.18,684.86 L1521.33,685.02 L1523.48,685.19 L1525.63,685.36 L1527.78,685.53 L1529.93,685.71 L1532.09,685.88 L1534.24,686.06 L1536.39,686.24 L1538.54,686.42 L1540.69,686.61 L1542.84,686.79 L1544.99,686.98 L1547.15,687.17 L1549.30,687.36 L1551.45,687.56 L1553.60,687.75 L1555.75,687.95 L1557.90,688.15 L1560.05,688.35 L1562.21,688.56 L1564.36,688.76 L1566.51,688.97 L1568.66,689.18 L1570.81,689.39 L1572.96,689.61 L1575.12,689.82 L1577.27,690.04 L1579.42,690.26 L1581.57,690.48 L1583.72,690.70 L1585.87,690.93 L1588.02,691.16 L1590.18,691.39 L1592.33,691.62 L1594.48,691.85 L1596.63,692.09 L1598.78,692.32 L1600.93,692.56 L1603.08,692.80 L1605.24,693.05 L1607.39,693.29 L1609.54,693.54 L1611.69,693.78 L1613.84,694.03 L1615.99,694.29 L1618.15,694.54 L1620.30,694.80 L1622.45,695.05 L1624.60,695.31" stroke="#4e8f20" stroke-width="7.70"/>
<path d="M761.3,761.1 L763.4,782 L764.5,815 L765.5,849 L765.9,856 C766.4,865.5 768.5,870.8 775,871.4" stroke="#4e8f20" stroke-width="4.40" stroke-dasharray="7.6 9.4"/>
<path d="M806.75,762.2 L805.3,800 L804.4,834 L803.7,850 C803.3,858 801.5,863.5 797,866.8 C793,869.5 788,870.6 782,871 L776,871.3" stroke="#4e8f20" stroke-width="4.40" stroke-dasharray="7.6 9.4"/>
<path d="M807.2,752.9 C807.6,749.5 808.8,747.3 811.5,745.2" stroke="#4e8f20" stroke-width="4.40"/>
<path d="M702,894.05 H770" stroke="#4e8f20" stroke-width="3.9" stroke-dasharray="7.8 9.2"/>
<path d="M760.8,886.2 L786,891.4 L786,896.6 L761,902 L759.9,899 L770.1,894.05 L759.9,889.2 Z" fill="#4e8f20" stroke="none"/>
</g>
<g fill="none">
<line x1="1293.0" y1="176.0" x2="1454.0" y2="176.0" stroke="#00004d" stroke-width="4" stroke-dasharray="14.6 19.4"/>
<line x1="1293.0" y1="256.0" x2="1454.0" y2="256.0" stroke="#4e8f20" stroke-width="4" stroke-dasharray="14.6 19.4"/>
<line x1="1293.0" y1="336.0" x2="1454.0" y2="336.0" stroke="#00004d" stroke-width="8"/>
<line x1="1293.0" y1="416.0" x2="1454.0" y2="416.0" stroke="#4e8f20" stroke-width="8"/>
<line x1="1293.0" y1="496.0" x2="1454.0" y2="496.0" stroke="#4e8f20" stroke-width="4" stroke-dasharray="8 9"/>
</g>
<g font-family="'Liberation Sans', Arial, Helvetica, sans-serif" font-size="57.00" fill="#000000" style="font-kerning:none;font-variant-ligatures:none;text-rendering:geometricPrecision" stroke="#ffffff" stroke-width="0.4" stroke-linejoin="round" paint-order="fill stroke">
<text transform="translate(230.5,1045.70) scale(1,1.050)" text-anchor="end">0</text>
<text transform="translate(231.50,935.83) scale(1,1.050)" text-anchor="end">0<tspan stroke="#000000" stroke-width="0.5">.</tspan><tspan dx="1.00">1</tspan></text>
<text transform="translate(230.5,825.97) scale(1,1.050)" text-anchor="end">0<tspan stroke="#000000" stroke-width="0.5">.</tspan>2</text>
<text transform="translate(230.5,716.10) scale(1,1.050)" text-anchor="end">0<tspan stroke="#000000" stroke-width="0.5">.</tspan>3</text>
<text transform="translate(230.5,606.23) scale(1,1.050)" text-anchor="end">0<tspan stroke="#000000" stroke-width="0.5">.</tspan>4</text>
<text transform="translate(230.5,496.37) scale(1,1.050)" text-anchor="end">0<tspan stroke="#000000" stroke-width="0.5">.</tspan>5</text>
<text transform="translate(230.5,386.50) scale(1,1.050)" text-anchor="end">0<tspan stroke="#000000" stroke-width="0.5">.</tspan>6</text>
<text transform="translate(230.5,276.63) scale(1,1.050)" text-anchor="end">0<tspan stroke="#000000" stroke-width="0.5">.</tspan>7</text>
<text transform="translate(230.5,166.77) scale(1,1.050)" text-anchor="end">0<tspan stroke="#000000" stroke-width="0.5">.</tspan>8</text>
<text transform="translate(230.5,56.90) scale(1,1.050)" text-anchor="end">0<tspan stroke="#000000" stroke-width="0.5">.</tspan>9</text>
<text transform="translate(540.02,1091.70) scale(1,1.050)" text-anchor="middle">0</text>
<text transform="translate(814.14,1091.70) scale(1,1.050)" text-anchor="middle">1</text>
<text transform="translate(1086.26,1091.70) scale(1,1.050)" text-anchor="middle">2</text>
<text transform="translate(1359.38,1091.70) scale(1,1.050)" text-anchor="middle">3</text>
<text transform="translate(1632.50,1091.70) scale(1,1.050)" text-anchor="middle">4</text>
<text transform="translate(234.3,1091.70) scale(1,1.050)">-<tspan dx="1.00">1</tspan></text>
<text transform="translate(1258.2,189.90) scale(1,1.025)" text-anchor="end">f<tspan font-size="45.60" dy="16.78" stroke="none">0,i</tspan><tspan dy="-16.78">(v)</tspan></text>
<text transform="translate(1258.2,269.90) scale(1,1.025)" text-anchor="end">f<tspan font-size="45.60" dy="16.78" stroke="none">0,e</tspan><tspan dy="-16.78">(v)</tspan></text>
<text transform="translate(1258.2,349.90) scale(1,1.025)" text-anchor="end">f<tspan font-size="45.60" dy="16.78" stroke="none">i</tspan><tspan dy="-16.78">(v,t</tspan><tspan font-size="45.60" dy="16.78" stroke="none">1</tspan><tspan dy="-16.78">)</tspan></text>
<text transform="translate(1258.2,429.90) scale(1,1.025)" text-anchor="end">f<tspan font-size="45.60" dy="16.78" stroke="none">e</tspan><tspan dy="-16.78">(v,t</tspan><tspan font-size="45.60" dy="16.78" stroke="none">1</tspan><tspan dy="-16.78">)</tspan></text>
<text transform="translate(1258.2,509.90) scale(1,1.025)" text-anchor="end">f<tspan font-size="45.60" dy="16.78" stroke="none">e</tspan><tspan dy="-16.78">(v,t</tspan><tspan font-size="45.60" dy="16.78" stroke="none">2</tspan><tspan dy="-16.78">)</tspan></text>
<text transform="translate(942.0,1166.3) scale(1,1.025)" text-anchor="middle" word-spacing="0.5">v / v<tspan font-size="45.60" dy="16.29" stroke="none" dx="1.10">th,i</tspan></text>
<text transform="translate(71.4,532) rotate(-90) scale(1,1.025)" text-anchor="middle">f / f<tspan font-size="45.60" dy="16.10" stroke="none" dx="1.00">i,0</tspan></text>
</g>
<g fill="#ffffff"><rect x="203.14" y="930.76" width="11.29" height="5.87"/><rect x="218.87" y="930.76" width="10.85" height="5.87"/><rect x="801.63" y="1086.63" width="11.29" height="5.87"/><rect x="817.36" y="1086.63" width="10.85" height="5.87"/><rect x="257.62" y="1086.63" width="11.29" height="5.87"/><rect x="273.35" y="1086.63" width="10.85" height="5.87"/><rect x="1216.33" y="363.01" width="9.29" height="4.89"/><rect x="1229.05" y="363.01" width="8.94" height="4.89"/><rect x="1216.33" y="443.01" width="9.29" height="4.89"/><rect x="1229.05" y="443.01" width="8.94" height="4.89"/></g>
</svg>
</body></html>
